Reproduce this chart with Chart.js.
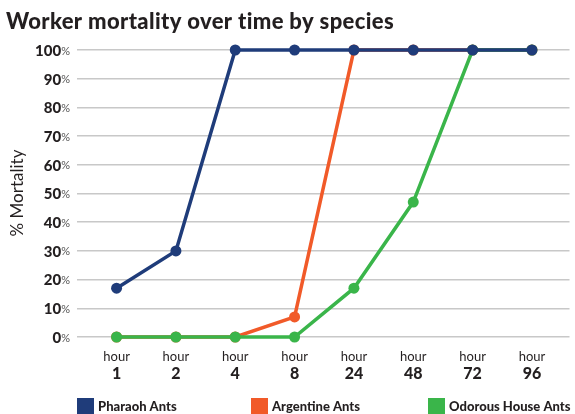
<!DOCTYPE html>
<html>
<head>
<meta charset="utf-8">
<script src="https://cdn.jsdelivr.net/npm/chart.js@4.4.0/dist/chart.umd.min.js"></script>
<style>
  html, body { margin: 0; padding: 0; background: #fff; }
</style>
</head>
<body>
<canvas id="mortalityChart" width="575" height="414"></canvas>
<script>
const hours = ['1', '2', '4', '8', '24', '48', '72', '96']
const pharaoh = [17, 30, 100, 100, 100, 100, 100, 100]
const argentine = [0, 0, 0, 7, 100, 100, 100, 100]
const odorous = [0, 0, 0, 0, 17, 47, 100, 100]
const yTicks = [0, 10, 20, 30, 40, 50, 60, 70, 80, 90, 100]
const seriesNames = ['Pharaoh Ants', 'Argentine Ants', 'Odorous House Ants']
const seriesColors = ['#1f3c7a', '#f15a29', '#3ab54a']

const textColor = '#231f20'
const fontName = 'Lato'

function toPoints(values) {
  return values.map(function (v, i) { return { x: i, y: v } })
}

// draws title, axis labels and legend as canvas text
const textPlugin = {
  id: 'textPlugin',
  afterDraw(chart) {
    const c = chart.ctx
    const xs = chart.scales.x
    const ys = chart.scales.y
    c.save()
    c.fillStyle = textColor

    // title
    c.font = '900 22px ' + fontName
    c.textAlign = 'left'
    c.textBaseline = 'middle'
    c.letterSpacing = '0.35px'
    c.fillText('Worker mortality over time by species', 6, 22)
    c.letterSpacing = '0px'

    // y axis title
    c.save()
    c.translate(18, 193)
    c.rotate(-Math.PI / 2)
    c.font = '17px ' + fontName
    c.textAlign = 'center'
    c.fillText('% Mortality', 0, 0)
    c.restore()

    // y tick labels: bold number + small %
    yTicks.forEach(function (t) {
      const py = ys.getPixelForValue(t)
      c.font = '11px ' + fontName
      const pw = c.measureText('%').width
      c.textAlign = 'right'
      c.fillStyle = '#555'
      c.fillText('%', 70, py + 1)
      c.font = '900 15px ' + fontName
      c.fillStyle = textColor
      c.fillText(String(t), 70 - pw, py + 1)
    })

    // x tick labels: "hour" + bold number
    c.textAlign = 'center'
    hours.forEach(function (h, i) {
      const px = xs.getPixelForValue(i)
      c.font = '13px ' + fontName
      c.fillText('hour', px, 357)
      c.font = '900 16px ' + fontName
      c.fillText(h, px, 374)
    })

    // legend
    const legendX = [77, 251, 428]
    c.textAlign = 'left'
    c.font = '900 13px ' + fontName
    seriesNames.forEach(function (name, i) {
      c.fillStyle = seriesColors[i]
      c.fillRect(legendX[i], 398, 17, 16)
      c.fillStyle = textColor
      c.fillText(name, legendX[i] + 21, 407)
    })
    c.restore()
  }
}

const ctx = document.getElementById('mortalityChart')
const orders = [0, 2, 1]
new Chart(ctx, {
  type: 'line',
  data: {
    datasets: seriesNames.map(function (name, i) {
      return {
        label: name,
        data: toPoints([pharaoh, argentine, odorous][i]),
        borderColor: seriesColors[i],
        backgroundColor: seriesColors[i],
        borderWidth: 3.5,
        pointRadius: 5.5,
        pointHoverRadius: 5.5,
        pointBorderWidth: 0,
        tension: 0,
        fill: false,
        clip: false,
        order: orders[i]
      }
    })
  },
  options: {
    responsive: false,
    animation: false,
    layout: { padding: { left: 77, right: 0, top: 50, bottom: 77 } },
    plugins: {
      legend: { display: false },
      tooltip: { enabled: false }
    },
    scales: {
      x: {
        type: 'linear',
        display: false,
        min: -0.667,
        max: 7.633
      },
      y: {
        min: 0,
        max: 100,
        afterBuildTicks: function (axis) {
          axis.ticks = yTicks.map(function (v) { return { value: v } })
        },
        ticks: { display: false },
        border: { display: false },
        grid: { color: '#c8c8c8', lineWidth: 1.5, drawTicks: false }
      }
    }
  },
  plugins: [textPlugin]
})
</script>
</body>
</html>
